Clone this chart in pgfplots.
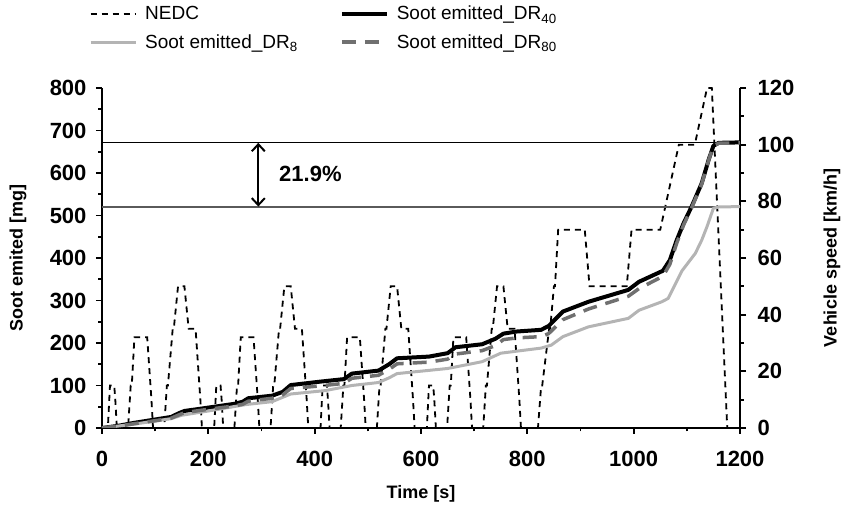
\documentclass[border=0pt]{standalone}
\usepackage{pgfplots}
\pgfplotsset{compat=1.18}
\usepackage{fontspec}
\setmainfont{Liberation Sans}
\usetikzlibrary{arrows.meta}
\definecolor{drlight}{RGB}{180,180,180}
\definecolor{drdark}{RGB}{112,112,112}
\definecolor{refgray}{RGB}{90,90,90}
\begin{document}
\begin{tikzpicture}
\pgfplotsset{
  common/.style={
    scale only axis, width=638pt, height=340pt,
    xmin=0, xmax=1200,
    axis line style={line width=2.2pt},
    tick style={line width=1.8pt, black},
    major tick length=6pt, minor tick length=3.5pt,
    tick align=outside,
    tick label style={font=\fontsize{22}{22}\selectfont\bfseries},
    /pgf/number format/assume math mode=true,
    /pgf/number format/1000 sep={},
    label style={font=\fontsize{18}{18}\selectfont\bfseries},
  }
}
% ---------- right axis : NEDC speed ----------
\begin{axis}[common,
  axis x line=none, axis y line*=right,
  ymin=0, ymax=120, ytick={0,20,...,120}, minor y tick num=1,
  yticklabel style={xshift=8pt},
  ylabel={Vehicle speed [km/h]},
  ylabel style={at={(axis description cs:1.1442,0.5)}, anchor=center},
]
\addplot[black, line width=1.8pt, dash pattern=on 6pt off 5pt] table {
t v
0 0
11 0
15 15
23 15
25 10
28 0
49 0
54 15
56 15
61 32
85 32
93 10
96 0
117 0
122 15
124 15
133 35
135 35
143 50
155 50
163 35
176 35
185 10
188 0
211 0
215 15
223 15
225 10
228 0
249 0
254 15
256 15
261 32
285 32
293 10
296 0
317 0
322 15
324 15
333 35
335 35
343 50
355 50
363 35
376 35
385 10
388 0
411 0
415 15
423 15
425 10
428 0
449 0
454 15
456 15
461 32
485 32
493 10
496 0
517 0
522 15
524 15
533 35
535 35
543 50
555 50
563 35
576 35
585 10
588 0
611 0
615 15
623 15
625 10
628 0
649 0
654 15
656 15
661 32
685 32
693 10
696 0
717 0
722 15
724 15
733 35
735 35
743 50
755 50
763 35
776 35
785 10
788 0
820 0
826 15
828 15
841 35
843 35
850 50
852 50
858 70
908 70
917 50
987 50
996 70
1050 70
1085 100
1115 100
1138 120
1147 120
1176 0
1200 0
};
\end{axis}
% ---------- left axis : soot ----------
\begin{axis}[common,
  axis x line*=bottom, axis y line*=left,
  ymin=0, ymax=800, ytick={0,100,...,800}, minor y tick num=1,
  xtick={0,200,...,1200}, minor x tick num=1,
  xticklabel style={yshift=-14pt},
  yticklabel style={xshift=-6pt},
  xlabel={Time [s]}, ylabel={Soot emited [mg]},
  xlabel style={at={(axis description cs:0.5,-0.1941)}, anchor=center},
  ylabel style={at={(axis description cs:-0.1317,0.5)}, anchor=center},
  legend columns=2,
  legend cell align=left,
  legend image code/.code={\draw[#1] (0pt,0pt) -- (45pt,0pt);},
  legend style={draw=none, fill=none, at={(0,1)}, anchor=north west,
    xshift=-16pt, yshift=86pt,
    font=\fontsize{19}{19}\selectfont,
    /tikz/row sep=9pt,
    /tikz/every odd column/.append style={column sep=6pt},
    /tikz/every even column/.append style={column sep=40pt}},
]
\coordinate (SW) at (rel axis cs:0,0);
\coordinate (NE) at (rel axis cs:1,1);
\addlegendimage{black, line width=1.8pt, dash pattern=on 6pt off 5pt}
\addlegendentry{NEDC}
\draw[black, line width=0.9pt] (axis cs:0,672) -- (axis cs:1200,672);
\draw[refgray, line width=1.1pt] (axis cs:0,520) -- (axis cs:1200,520);
\addplot[black, line width=4pt, line join=round] table {
t s
0 0
30 5
60 12
100 20
130 26
145 35
155 40
200 48
250 57
265 62
275 70
320 76
340 85
355 101
410 109
455 115
470 128
520 135
540 150
555 164
615 168
650 176
665 190
715 197
740 210
755 222
780 227
826 231
840 240
867 274
915 297
990 325
1010 344
1055 370
1068 395
1081 442
1094 482
1109 521
1128 576
1141 631
1150 664
1160 671
1200 672
};
\addlegendentry{Soot emitted\_DR\textsubscript{40}}
\addplot[drlight, line width=3pt, line join=round] table {
t s
0 0
60 9
130 22
150 30
200 40
270 55
320 62
355 80
420 88
470 100
520 107
540 118
555 128
650 140
715 156
750 176
826 188
845 195
867 215
915 238
990 258
1010 277
1053 297
1065 305
1091 370
1116 411
1128 442
1138 474
1150 517
1160 520
1200 521
};
\addlegendentry{Soot emitted\_DR\textsubscript{8}}
\addplot[drdark, line width=3.5pt, dash pattern=on 14pt off 9pt, line join=round] table {
t s
0 0
30 4
60 10
100 17
130 23
145 31
155 36
200 44
250 52
265 56
275 63
320 70
340 78
355 93
410 99
455 105
470 117
520 124
540 138
555 151
615 155
650 162
665 174
715 182
740 194
755 208
780 212
826 215
840 222
867 255
915 280
990 310
1010 328
1055 357
1068 385
1081 435
1094 478
1109 518
1128 574
1141 630
1150 664
1160 670
1200 671
};
\addlegendentry{Soot emitted\_DR\textsubscript{80}}
\draw[black, line width=2pt, {Straight Barb[length=7pt,width=13pt]}-{Straight Barb[length=7pt,width=13pt]}]
  (axis cs:294,671) -- (axis cs:294,521);
\node[font=\fontsize{22}{22}\selectfont\bfseries] at (axis cs:392,597) {21.9\%};
\end{axis}
\pgfresetboundingbox
\path[use as bounding box] ([shift={(-102pt,-78pt)}]SW) rectangle ([shift={(103pt,88pt)}]NE);
\end{tikzpicture}
\end{document}
